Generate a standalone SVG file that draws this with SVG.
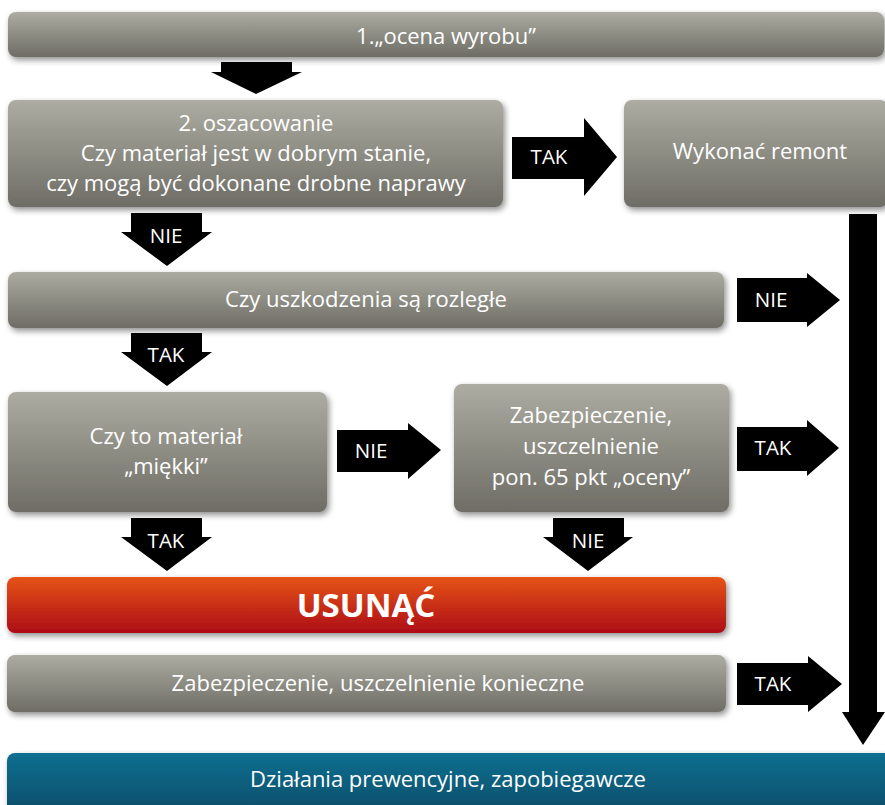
<svg xmlns="http://www.w3.org/2000/svg" width="885" height="805" viewBox="0 0 885 805">
<defs>
<linearGradient id="gGray" x1="0" y1="0" x2="0" y2="1">
<stop offset="0" stop-color="#adaca2"/>
<stop offset="1" stop-color="#6e6d65"/>
</linearGradient>
<linearGradient id="gRed" x1="0" y1="0" x2="0" y2="1">
<stop offset="0" stop-color="#e55316"/>
<stop offset="1" stop-color="#ad0d19"/>
</linearGradient>
<linearGradient id="gBlue" x1="0" y1="0" x2="0" y2="1">
<stop offset="0" stop-color="#0a6f90"/>
<stop offset="1" stop-color="#0b4c68"/>
</linearGradient>
<filter id="sh" x="-10%" y="-30%" width="120%" height="160%">
<feGaussianBlur in="SourceAlpha" stdDeviation="3"/>
<feOffset dx="2" dy="3" result="b"/>
<feComponentTransfer><feFuncA type="linear" slope="0.45"/></feComponentTransfer>
<feMerge><feMergeNode/><feMergeNode in="SourceGraphic"/></feMerge>
</filter>
</defs>
<style>
.box{fill:url(#gGray);filter:url(#sh)}
.t{font-family:"Open Sans",Lato,"Liberation Sans",sans-serif;font-size:22px;fill:#ffffff;text-anchor:middle}
.a{font-family:"Open Sans",Lato,"Liberation Sans",sans-serif;font-size:20.5px;fill:#ffffff;text-anchor:middle}
.arr{fill:#000000}
</style>
<rect width="885" height="805" fill="#ffffff"/>

<g id="n1"><rect class="box" x="8" y="12" width="876" height="45" rx="8"/><text class="t" x="446" y="44">1.„ocena wyrobu”</text></g>
<g id="n2"><rect class="box" x="8" y="100" width="495" height="107" rx="8"/>
<text class="t" x="256" y="131">2. oszacowanie</text>
<text class="t" x="256" y="161">Czy materiał jest w dobrym stanie,</text>
<text class="t" x="256" y="191">czy mogą być dokonane drobne naprawy</text></g>
<g id="n3"><rect class="box" x="624" y="100" width="264" height="107" rx="8"/><text class="t" x="760" y="159">Wykonać remont</text></g>
<g id="n4"><rect class="box" x="8" y="272" width="716" height="56" rx="8"/><text class="t" x="366" y="307">Czy uszkodzenia są rozległe</text></g>
<g id="n5"><rect class="box" x="8" y="392" width="319" height="120" rx="8"/>
<text class="t" x="166" y="444">Czy to materiał</text>
<text class="t" x="166" y="474">„miękki”</text></g>
<g id="n6"><rect class="box" x="454" y="384" width="275" height="128" rx="8"/>
<text class="t" x="591" y="423">Zabezpieczenie,</text>
<text class="t" x="591" y="454">uszczelnienie</text>
<text class="t" x="591" y="485">pon. 65 pkt „oceny”</text></g>
<g id="n7"><rect x="7" y="577" width="719" height="56" rx="8" fill="url(#gRed)" filter="url(#sh)"/>
<text x="366" y="617" font-family="'Open Sans',Lato,'Liberation Sans',sans-serif" font-size="33" font-weight="bold" fill="#ffffff" text-anchor="middle">USUNĄĆ</text></g>
<g id="n8"><rect class="box" x="7" y="655" width="719" height="57" rx="8"/><text class="t" x="378" y="691">Zabezpieczenie, uszczelnienie konieczne</text></g>
<g id="n9"><rect x="7" y="753" width="886" height="62" rx="8" fill="url(#gBlue)" filter="url(#sh)"/><text class="t" x="448" y="787">Działania prewencyjne, zapobiegawcze</text></g>

<g id="connectors">
<polygon class="arr" points="221,62 292,62 292,72 302,72 256,94 211,72 221,72"/>
<polygon class="arr" points="131,213 202,213 202,232 212,232 167,266 121,232 131,232"/>
<text class="a" x="166" y="243">NIE</text>
<polygon class="arr" points="131,333 202,333 202,352 212,352 167,386 121,352 131,352"/>
<text class="a" x="166" y="362">TAK</text>
<polygon class="arr" points="131,518 202,518 202,537 212,537 167,571 121,537 131,537"/>
<text class="a" x="166" y="548">TAK</text>
<polygon class="arr" points="553,518 624,518 624,537 633,537 588,571 543,537 553,537"/>
<text class="a" x="588" y="548">NIE</text>
<polygon class="arr" points="512,137 584,137 584,118 617,157 584,196 584,179 512,179"/>
<text class="a" x="549" y="164">TAK</text>
<polygon class="arr" points="737,278 807,278 807,273 840,300 807,327 807,322 737,322"/>
<text class="a" x="771" y="307">NIE</text>
<polygon class="arr" points="337,430 408,430 408,423 441,450 408,479 408,472 337,472"/>
<text class="a" x="371" y="458">NIE</text>
<polygon class="arr" points="737,427 807,427 807,420 839,448 807,476 807,471 737,471"/>
<text class="a" x="773" y="455">TAK</text>
<polygon class="arr" points="737,663 808,663 808,656 842,684 808,712 808,705 737,705"/>
<text class="a" x="773" y="691">TAK</text>
<polygon class="arr" points="849,214 877,214 877,712 885,712 863,745 842,712 849,712"/>
</g>
</svg>
